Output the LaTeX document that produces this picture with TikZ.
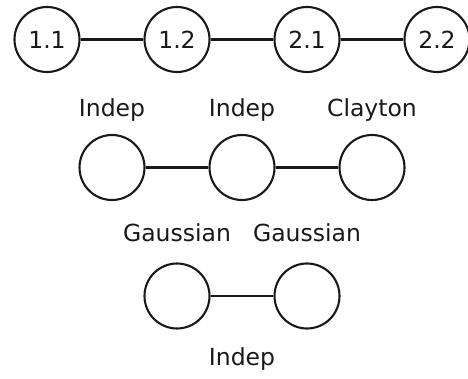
\documentclass[tikz,border=0pt]{standalone}
\usepackage{fontspec}
\setmainfont{DejaVu Sans}
\begin{document}
\begin{tikzpicture}[x=1pt,y=-1pt,
  vert/.style={draw=black!90, circle, line width=2.1pt, minimum size=65pt, inner sep=0pt, text=black!90, font=\fontsize{23.5}{23.5}\selectfont},
  lbl/.style={anchor=base, inner sep=0pt, text=black!90, font=\fontsize{23.5}{23.5}\selectfont},
  edge/.style={line width=2.1pt, draw=black!90}]
\useasboundingbox (0,0) rectangle (468,379);
\node[vert] (a) at (47,39.5) {1.1};
\node[vert] (b) at (177,39.5) {1.2};
\node[vert] (c) at (307,39.5) {2.1};
\node[vert] (d) at (437,39.5) {2.2};
\draw[edge] (a) -- (b);
\draw[edge] (b) -- (c);
\draw[edge] (c) -- (d);
\node[lbl] (l1) at (112,117) {Indep};
\node[lbl] (l2) at (242,117) {Indep};
\node[lbl] (l3) at (372,117) {Clayton};
\node[vert] (e) at (112,167.5) {};
\node[vert] (f) at (242,167.5) {};
\node[vert] (g) at (372,167.5) {};
\draw[edge] (e) -- (f);
\draw[edge] (f) -- (g);
\node[lbl] (l4) at (177,241.5) {Gaussian};
\node[lbl] (l5) at (307,241.5) {Gaussian};
\node[vert] (h) at (177,296) {};
\node[vert] (i) at (307,296) {};
\draw[edge] (h) -- (i);
\node[lbl] (l6) at (242,365) {Indep};
\end{tikzpicture}
\end{document}
